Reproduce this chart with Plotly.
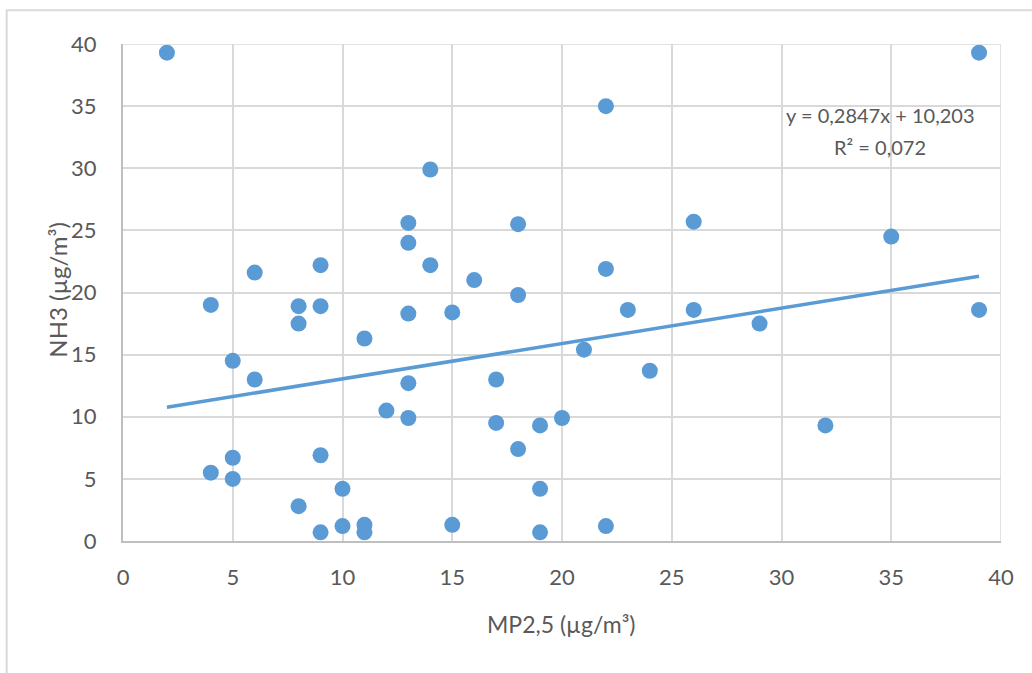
import plotly.graph_objects as go

# MP2,5 (x) and NH3 (y) values
mp25 = [2, 39, 22, 14, 13, 18, 26, 13, 35, 6, 9, 14, 22, 16, 4, 8, 9, 18, 8, 13,
        15, 23, 26, 29, 39, 11, 5, 21, 6, 13, 17, 24, 12, 13, 17, 19, 20, 32, 18,
        9, 5, 4, 5, 10, 19, 8, 10, 11, 15, 22, 9, 11, 19]
nh3 = [39.3, 39.3, 35.0, 29.9, 25.6, 25.5, 25.7, 24.0, 24.5, 21.6, 22.2, 22.2, 21.9,
       21.0, 19.0, 18.9, 18.9, 19.8, 17.5, 18.3, 18.4, 18.6, 18.6, 17.5, 18.6, 16.3,
       14.5, 15.4, 13.0, 12.7, 13.0, 13.7, 10.5, 9.9, 9.5, 9.3, 9.9, 9.3, 7.4, 6.9,
       6.7, 5.5, 5.0, 4.2, 4.2, 2.8, 1.2, 1.3, 1.3, 1.2, 0.7, 0.7, 0.7]

# Trendline from chart equation
slope = 0.2847
intercept = 10.203
trend_x = [min(mp25), max(mp25)]
trend_y = [slope * v + intercept for v in trend_x]

x_ticks = [0, 5, 10, 15, 20, 25, 30, 35, 40]
y_ticks = [0, 5, 10, 15, 20, 25, 30, 35, 40]

blue = "#5B9BD5"
grid = "#D9D9D9"
txt = "#595959"
font_family = "Lato, 'Open Sans', sans-serif"

fig = go.Figure()
fig.add_trace(go.Scatter(
    x=trend_x, y=trend_y, mode="lines",
    line=dict(color=blue, width=3.5), hoverinfo="skip", showlegend=False))
fig.add_trace(go.Scatter(
    x=mp25, y=nh3, mode="markers",
    marker=dict(color=blue, size=16, line=dict(width=0)), showlegend=False))

fig.add_annotation(
    x=0.9727, y=0.857, xref="paper", yref="paper", xanchor="right", yanchor="middle",
    text="y = 0,2847x + 10,203", showarrow=False,
    font=dict(family=font_family, size=20, color=txt))
fig.add_annotation(
    x=0.862, y=0.792, xref="paper", yref="paper", xanchor="center", yanchor="middle",
    text="R² = 0,072", showarrow=False,
    font=dict(family=font_family, size=20, color=txt))

# axis titles
fig.add_annotation(
    x=0.4998, y=-0.168, xref="paper", yref="paper", xanchor="center", yanchor="middle",
    text="MP2,5 (µg/m³)", showarrow=False,
    font=dict(family=font_family, size=23, color=txt))
fig.add_annotation(
    x=-0.0756, y=0.505, xref="paper", yref="paper", xanchor="center", yanchor="middle",
    text="NH3 (µg/m³)", showarrow=False, textangle=-90,
    font=dict(family=font_family, size=24, color=txt))

# outer chart border (partly outside the visible window)
fig.add_shape(type="rect", xref="paper", yref="paper",
              x0=-0.1325, x1=1.2, y0=-0.4, y1=1.068,
              line=dict(color=grid, width=2), layer="below")

fig.update_xaxes(
    range=[0, 40], tickvals=x_ticks, ticktext=[str(v) for v in x_ticks],
    showgrid=True, gridcolor=grid, gridwidth=1.5,
    showline=True, linecolor="#BFBFBF", linewidth=2, mirror=False,
    zeroline=False, ticks="", ticklabelstandoff=16,
    tickfont=dict(family=font_family, size=22, color=txt))
fig.update_yaxes(
    range=[0, 40], tickvals=y_ticks, ticktext=[str(v) for v in y_ticks],
    showgrid=True, gridcolor=grid, gridwidth=1.5,
    showline=True, linecolor="#BFBFBF", linewidth=2,
    zeroline=False, ticks="", ticklabelstandoff=20,
    tickfont=dict(family=font_family, size=22, color=txt))

# right and top grid borders
fig.add_shape(type="line", xref="x", yref="y", x0=40, x1=40, y0=0, y1=40,
              line=dict(color=grid, width=1.5), layer="below")
fig.add_shape(type="line", xref="x", yref="y", x0=0, x1=40, y0=40, y1=40,
              line=dict(color=grid, width=1.5), layer="below")

fig.update_layout(
    width=1032, height=673,
    margin=dict(l=123, r=31, t=44, b=132, autoexpand=False),
    paper_bgcolor="white", plot_bgcolor="white",
    font=dict(family=font_family, color=txt),
)

fig.write_html("out.html")
